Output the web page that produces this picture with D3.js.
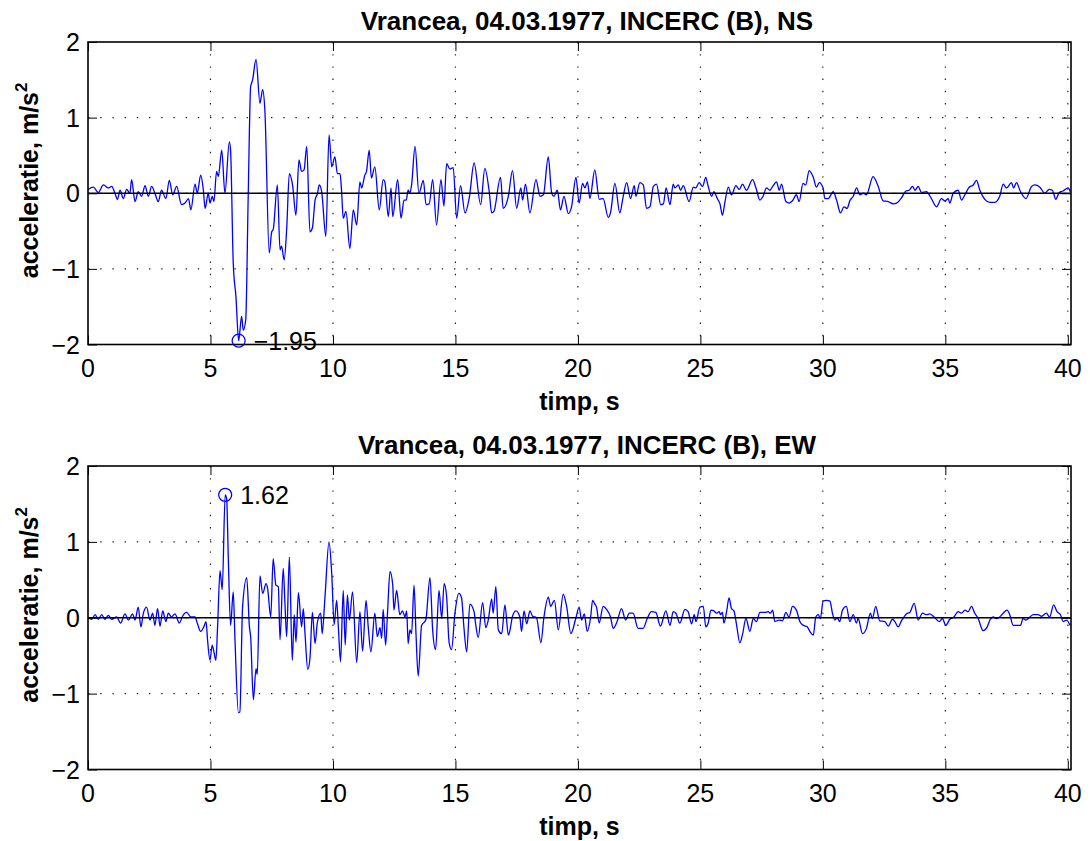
<!DOCTYPE html>
<html lang="ro">
<head>
<meta charset="UTF-8">
<title>Vrancea 1977 - INCERC</title>
<script src="https://d3js.org/d3.v7.min.js"></script>
<style>
    body { margin: 0; background: #fff; }
    svg { display: block; font-family: "Liberation Sans", Arial, Helvetica, sans-serif; }
</style>
</head>
<body>
<svg id="chart" width="1090" height="841"></svg>
<script>
// valori: [timp s, acceleratie m/s2]
const xTicks = [0, 5, 10, 15, 20, 25, 30, 35, 40];
const yTicks = [-2, -1, 0, 1, 2];
const tMax = 40.13;

const nsRecord = [[0,0.05],[0.22,0.08],[0.42,0.01],[0.63,0.11],[0.83,0.07],[0.97,0.09],[1.1,0],[1.2,-0.08],[1.31,0.04],[1.44,-0.07],[1.58,0.05],[1.71,0],[1.78,0.18],[1.92,-0.11],[2.05,0.02],[2.19,-0.04],[2.33,0.10],[2.46,-0.04],[2.6,0.09],[2.73,0],[2.87,-0.11],[3.0,0.04],[3.18,-0.07],[3.32,0.17],[3.46,-0.02],[3.62,0.09],[3.82,-0.15],[3.96,-0.13],[4.1,-0.07],[4.2,-0.22],[4.37,0.12],[4.46,0],[4.6,0.24],[4.71,0.04],[4.78,-0.2],[4.91,0],[4.98,-0.13],[5.07,-0.04],[5.14,-0.11],[5.25,0.29],[5.32,0.22],[5.46,0.57],[5.59,0],[5.77,0.68],[5.82,0.57],[5.93,-0.93],[6.04,-1.37],[6.15,-1.95],[6.27,-1.63],[6.34,-1.81],[6.44,-1.67],[6.54,-0.04],[6.64,1.41],[6.72,1.50],[6.86,1.77],[7.02,1.19],[7.13,1.37],[7.22,1.10],[7.4,-0.79],[7.5,-0.51],[7.56,-0.48],[7.73,0.11],[7.84,-0.75],[7.9,-0.7],[8.01,-0.88],[8.11,-0.48],[8.22,0.26],[8.35,0.11],[8.49,-0.29],[8.61,0.44],[8.72,0.29],[8.82,0.31],[8.93,0.62],[9.06,-0.51],[9.16,-0.46],[9.27,-0.09],[9.37,0],[9.44,0.11],[9.54,0.02],[9.71,-0.57],[9.84,0.77],[9.95,0.35],[10.08,0.48],[10.18,0.26],[10.29,0.26],[10.35,0.04],
[10.42,-0.33],[10.53,-0.24],[10.69,-0.73],[10.83,-0.22],[10.97,-0.42],[11.1,0.15],[11.17,0.07],[11.3,0.24],[11.37,0.29],[11.48,0.57],[11.57,0.20],[11.71,0.35],[11.89,-0.22],[12.05,0.18],[12.12,0.15],[12.26,-0.31],[12.37,0.07],[12.44,-0.31],[12.64,0.18],[12.78,-0.33],[12.9,-0.09],[12.99,-0.09],[13.07,0.04],[13.14,0],[13.21,0.11],[13.35,0.62],[13.51,0],[13.69,0.17],[13.8,-0.15],[13.93,-0.14],[14.07,0.18],[14.23,-0.42],[14.41,0.18],[14.53,-0.17],[14.64,0.39],[14.78,0.32],[14.91,0.34],[15.05,-0.33],[15.21,0.10],[15.39,-0.26],[15.57,-0.05],[15.76,0.40],[16.03,-0.15],[16.2,0.33],[16.38,0.02],[16.48,-0.26],[16.57,-0.24],[16.84,0.21],[16.95,-0.20],[17.16,-0.04],[17.33,0.30],[17.5,-0.20],[17.67,0.07],[17.74,-0.09],[17.86,0.12],[18.04,-0.26],[18.29,0.18],[18.45,-0.04],[18.59,-0.02],[18.79,0.48],[18.93,0],[19.02,-0.04],[19.16,0.04],[19.29,-0.22],[19.43,-0.04],[19.61,-0.27],[19.74,-0.18],[19.92,0.21],[20.05,-0.13],[20.19,0.13],[20.29,0.07],[20.39,0.15],[20.49,-0.07],[20.69,0.31],[20.87,-0.08],[21.03,-0.07],[21.24,-0.32],[21.33,-0.26],[21.51,0.13],[21.71,-0.26],[21.85,-0.04],[21.99,0.14],[22.15,-0.07],[22.3,0.10],[22.37,-0.04],[22.53,0.14],[22.67,0.11],[22.8,-0.20],[22.94,-0.18],[23.08,0.09],[23.21,0.12],[23.38,-0.15],[23.49,-0.14],[23.6,0.07],[23.76,-0.15],[23.89,0.12],[23.96,0.07],[24.1,0.11],[24.19,0.04],[24.3,0.10],[24.54,-0.11],[24.71,0.08],[24.81,0.07],[24.95,0.14],
[25.09,0.09],[25.22,0.21],[25.32,0.09],[25.46,-0.04],[25.55,0.02],[25.69,-0.07],[25.8,-0.14],[25.9,-0.29],[26.0,-0.12],[26.14,0.08],[26.27,-0.02],[26.45,0.10],[26.59,0.05],[26.72,0.12],[26.88,0.04],[27.13,0.18],[27.27,0.07],[27.43,-0.09],[27.56,-0.04],[27.7,0.07],[27.84,0.04],[27.95,0.09],[28.11,0.15],[28.22,0.04],[28.31,0.12],[28.49,-0.11],[28.63,-0.13],[28.76,-0.10],[28.92,-0.02],[29.03,-0.11],[29.19,0.13],[29.3,0.11],[29.44,0.30],[29.61,0.21],[29.74,0.08],[29.85,0.14],[30.01,0.07],[30.08,-0.07],[30.22,-0.07],[30.42,0.02],[30.56,-0.09],[30.72,-0.26],[30.86,-0.18],[30.99,-0.2],[31.1,-0.10],[31.24,-0.04],[31.38,0.07],[31.51,-0.02],[31.65,0],[31.78,-0.02],[32.05,0.22],[32.26,0.09],[32.46,-0.10],[32.67,-0.11],[32.87,-0.14],[33.01,-0.13],[33.21,-0.06],[33.39,0.03],[33.52,0.04],[33.66,0.09],[33.76,0.04],[33.89,0.09],[34.03,0.01],[34.23,0.02],[34.43,-0.07],[34.64,-0.18],[34.84,-0.07],[34.98,-0.10],[35.12,-0.07],[35.18,-0.13],[35.32,0],[35.52,0.04],[35.66,-0.09],[35.8,-0.02],[35.97,0.08],[36.14,0.11],[36.27,0.17],[36.41,0.04],[36.61,-0.08],[36.82,-0.12],[37.02,-0.12],[37.22,-0.04],[37.36,0.12],[37.5,0.07],[37.7,0.14],[37.79,0.07],[37.9,0.14],[38.07,0.02],[38.29,-0.07],[38.52,0.09],[38.65,0.11],[38.86,0.08],[39.06,0],[39.24,0.05],[39.37,0.04],[39.51,-0.08],[39.65,0.01],[39.81,0.03],[40.01,0.07],[40.1,0.02]];

const ewRecord = [[0,0],[0.15,-0.02],[0.29,0.04],[0.42,-0.02],[0.56,0.04],[0.69,-0.02],[0.83,0.03],[0.97,-0.02],[1.17,0.01],[1.33,-0.07],[1.51,0.05],[1.65,-0.03],[1.82,0.05],[1.92,-0.03],[2.05,0.14],[2.16,-0.12],[2.26,0.06],[2.39,0.14],[2.53,-0.03],[2.64,0.06],[2.73,-0.10],[2.84,0.12],[2.94,-0.11],[3.05,0.09],[3.18,-0.05],[3.28,0.06],[3.41,0.01],[3.55,0.05],[3.73,-0.07],[3.86,0.02],[4.03,0.07],[4.2,0.01],[4.37,0.01],[4.46,-0.07],[4.6,-0.18],[4.73,-0.12],[4.82,-0.05],[4.88,-0.29],[4.98,-0.56],[5.07,-0.36],[5.14,-0.45],[5.22,-0.56],[5.29,-0.12],[5.39,0.62],[5.48,0.37],[5.6,1.62],[5.66,1.57],[5.73,0.76],[5.82,-0.10],[5.93,0.34],[6.0,-0.29],[6.14,-1.25],[6.2,-1.24],[6.31,0.14],[6.48,0.53],[6.59,-0.12],[6.64,-0.25],[6.75,-1.08],[6.86,-0.67],[6.91,-0.75],[7.02,0.55],[7.13,0.32],[7.27,0.45],[7.33,0.39],[7.46,0.01],[7.56,0.78],[7.67,0.43],[7.77,0.41],[7.84,-0.29],[7.97,0.65],[8.04,0.19],[8.11,-0.25],[8.22,0.80],[8.34,-0.56],[8.42,0.04],[8.49,-0.32],[8.59,0.33],[8.72,-0.12],[8.79,0.12],[8.86,-0.21],[8.97,-0.68],[9.06,-0.54],[9.16,0.07],[9.27,-0.34],[9.36,-0.07],[9.5,0.06],[9.56,-0.21],[9.67,0.25],[9.84,1.0],[9.95,0.58],[10.05,-0.09],[10.15,0.23],[10.22,-0.12],[10.31,-0.58],
[10.42,0.36],[10.5,-0.36],[10.59,0.30],[10.67,-0.03],[10.8,0.34],[10.97,-0.59],[11.1,0.08],[11.21,-0.44],[11.35,0.23],[11.44,-0.12],[11.55,-0.45],[11.71,0.06],[11.81,-0.25],[11.92,-0.13],[11.99,-0.27],[12.05,0.11],[12.15,-0.36],[12.23,0.08],[12.33,0.61],[12.44,0.43],[12.49,0.10],[12.6,0.36],[12.73,0.04],[12.84,0.09],[12.94,0.01],[13.01,0.09],[13.07,-0.34],[13.14,-0.16],[13.21,-0.21],[13.31,0.43],[13.39,-0.21],[13.48,-0.77],[13.62,-0.10],[13.79,-0.03],[13.96,0.53],[14.07,-0.16],[14.19,-0.42],[14.33,0.36],[14.44,-0.01],[14.54,0.45],[14.64,0.28],[14.74,-0.32],[14.84,-0.42],[14.98,0.06],[15.14,0.32],[15.25,0.26],[15.35,-0.14],[15.46,-0.45],[15.59,0.18],[15.76,0.08],[15.82,-0.07],[15.93,-0.26],[16.11,0.20],[16.24,-0.13],[16.34,-0.03],[16.48,0.25],[16.54,0.06],[16.65,0.41],[16.75,-0.16],[16.89,-0.21],[17.02,0.17],[17.16,-0.23],[17.23,-0.16],[17.33,0.02],[17.47,0.09],[17.63,0.01],[17.7,-0.18],[17.8,0.09],[17.91,-0.08],[18.04,0.09],[18.15,0.02],[18.31,0],[18.49,-0.33],[18.61,0],[18.79,0.27],[18.89,0.15],[19.04,0.23],[19.2,-0.16],[19.4,0.31],[19.54,0.15],[19.71,-0.21],[19.92,0],[20.05,0.14],[20.15,-0.03],[20.26,0.05],[20.38,-0.18],[20.52,0.01],[20.6,0.23],[20.69,0.18],[20.76,0.14],[20.87,-0.07],[21.03,0.15],[21.17,0.11],[21.33,0.01],[21.44,-0.14],[21.6,-0.05],[21.78,0.12],[21.95,-0.03],[22.1,0.06],[22.25,0.06],[22.46,-0.14],[22.66,-0.14],[22.83,-0.01],[23.0,0.08],[23.18,0.07],[23.37,-0.11],[23.59,0.09],[23.76,-0.10],[23.89,0.08],[24.0,0.06],[24.16,-0.07],[24.37,0.11],[24.5,0.08],[24.64,-0.08],[24.75,0.04],[24.82,-0.05],[24.98,0.14],
[25.12,0.15],[25.22,-0.12],[25.32,-0.07],[25.43,0.10],[25.55,0.09],[25.66,0.06],[25.77,0.08],[25.82,0.04],[25.9,0.07],[25.96,-0.07],[26.07,0.08],[26.17,0.26],[26.27,0.12],[26.37,0.09],[26.48,-0.10],[26.61,-0.33],[26.72,-0.22],[26.86,-0.01],[27.02,-0.18],[27.16,-0.01],[27.29,-0.05],[27.43,0.07],[27.63,0.07],[27.77,0.08],[27.86,0.06],[27.95,0.10],[28.04,-0.05],[28.22,-0.03],[28.35,-0.04],[28.49,0.07],[28.62,0.01],[28.76,0.15],[28.92,0.10],[29.06,-0.05],[29.2,-0.10],[29.36,-0.12],[29.47,-0.18],[29.61,-0.23],[29.71,0.01],[29.81,0.04],[29.9,-0.01],[30.01,0.22],[30.15,0.23],[30.29,0.22],[30.39,0.06],[30.49,-0.03],[30.58,0],[30.69,-0.05],[30.8,0.10],[30.96,0.15],[31.1,-0.05],[31.24,0.04],[31.37,-0.07],[31.44,-0.01],[31.62,-0.21],[31.78,-0.14],[31.94,0.06],[32.02,-0.01],[32.16,0.15],[32.32,-0.04],[32.53,-0.05],[32.67,-0.11],[32.84,-0.02],[32.94,-0.05],[33.07,-0.12],[33.21,-0.04],[33.41,0.05],[33.55,0.07],[33.73,0.19],[33.89,-0.03],[34.07,0.06],[34.23,0.04],[34.36,0.05],[34.57,0],[34.75,-0.05],[34.88,-0.01],[35.02,-0.10],[35.18,-0.02],[35.35,0.01],[35.52,0.08],[35.66,0.06],[35.8,0.10],[35.93,0.08],[36.07,0.15],[36.2,0.06],[36.34,-0.01],[36.54,-0.17],[36.71,-0.12],[36.82,-0.03],[36.95,0.01],[37.09,-0.01],[37.22,0.01],[37.36,0.06],[37.52,0.10],[37.63,0.04],[37.77,-0.10],[37.93,-0.10],[38.07,-0.10],[38.17,-0.01],[38.29,-0.03],[38.45,0.01],[38.59,0.04],[38.79,0.04],[38.93,0.02],[39.12,0.06],[39.26,0.01],[39.42,0.17],[39.56,0.08],[39.7,0.04],[39.81,-0.05],[39.95,-0.03],[40.09,-0.10]];

const nsPeak = [6.15, -1.95];
const ewPeak = [5.60, 1.62];

const panels = [
    { title: "Vrancea, 04.03.1977, INCERC (B), NS", data: nsRecord, peak: nsPeak, label: "\u22121.95", top: 42, bottom: 344.5 },
    { title: "Vrancea, 04.03.1977, INCERC (B), EW", data: ewRecord, peak: ewPeak, label: "1.62", top: 466, bottom: 769.5 }
];

const svg = d3.select("#chart");
const left = 88, right = 1071;
const x = d3.scaleLinear().domain([0, tMax]).range([left, right]);
const fmt = v => v < 0 ? "\u2212" + Math.abs(v) : String(v);

panels.forEach((p, i) => {
    const y = d3.scaleLinear().domain([-2, 2]).range([p.bottom, p.top]);
    const g = svg.append("g");

    // grila punctata
    g.selectAll(".gx").data(xTicks.filter(d => d > 0)).enter().append("line")
        .attr("x1", d => x(d)).attr("x2", d => x(d))
        .attr("y1", p.top).attr("y2", p.bottom)
        .attr("stroke", "#222").attr("stroke-width", 1.2)
        .attr("stroke-dasharray", "1.4,10.8");
    g.selectAll(".gy").data(yTicks.filter(d => d > -2 && d < 2)).enter().append("line")
        .attr("x1", left).attr("x2", right)
        .attr("y1", d => y(d)).attr("y2", d => y(d))
        .attr("stroke", "#222").attr("stroke-width", 1.2)
        .attr("stroke-dasharray", "1.4,10.8");

    // semnal
    g.append("clipPath").attr("id", "clip" + i).append("rect")
        .attr("x", left).attr("y", p.top).attr("width", right - left).attr("height", p.bottom - p.top);
    const line = d3.line().curve(d3.curveMonotoneX).x(d => x(d[0])).y(d => y(d[1]));
    g.append("path").datum(p.data)
        .attr("clip-path", "url(#clip" + i + ")")
        .attr("d", line)
        .attr("fill", "none").attr("stroke", "#0000ff").attr("stroke-width", 1.3)
        .attr("stroke-linejoin", "round");

    // linia de zero
    g.append("line").attr("x1", left).attr("x2", right)
        .attr("y1", y(0)).attr("y2", y(0))
        .attr("stroke", "#000").attr("stroke-width", 1.5);

    // axe
    const axB = d3.axisBottom(x).tickValues(xTicks).tickSize(-9).tickFormat("");
    const axT = d3.axisTop(x).tickValues(xTicks).tickSize(-9).tickFormat("");
    const axL = d3.axisLeft(y).tickValues(yTicks).tickSize(-9).tickFormat("");
    const axR = d3.axisRight(y).tickValues(yTicks).tickSize(-9).tickFormat("");
    [[axB, `translate(0,${p.bottom})`], [axT, `translate(0,${p.top})`],
     [axL, `translate(${left},0)`], [axR, `translate(${right},0)`]].forEach(([ax, tr]) => {
        const a = g.append("g").attr("transform", tr).call(ax);
        a.select(".domain").remove();
        a.selectAll("line").attr("stroke", "#000").attr("stroke-width", 1);
    });
    g.append("rect").attr("x", left).attr("y", p.top)
        .attr("width", right - left).attr("height", p.bottom - p.top)
        .attr("fill", "none").attr("stroke", "#000").attr("stroke-width", 1.6);

    // etichete
    g.selectAll(".tx").data(xTicks).enter().append("text")
        .attr("x", d => x(d)).attr("y", p.bottom + 32.5)
        .attr("text-anchor", "middle").attr("font-size", 25).text(d => d);
    g.selectAll(".ty").data(yTicks).enter().append("text")
        .attr("x", 80).attr("y", d => y(d) + 9)
        .attr("text-anchor", "end").attr("font-size", 25).text(fmt);

    g.append("text").attr("x", 587).attr("y", p.top - 12)
        .attr("text-anchor", "middle").attr("font-size", 26).attr("font-weight", "bold")
        .text(p.title);
    g.append("text").attr("x", (left + right) / 2).attr("y", p.bottom + 65.5)
        .attr("text-anchor", "middle").attr("font-size", 25).attr("font-weight", "bold")
        .text("timp, s");
    const yl = g.append("text")
        .attr("transform", `translate(38,${y(0) + 85}) rotate(-90)`)
        .attr("font-size", 25).attr("font-weight", "bold");
    yl.append("tspan").text("acceleratie, m/s");
    yl.append("tspan").attr("font-size", 17).attr("dy", -11).text("2");

    // valoarea de varf
    g.append("circle").attr("cx", x(p.peak[0])).attr("cy", y(p.peak[1])).attr("r", 6.5)
        .attr("fill", "none").attr("stroke", "#0000ff").attr("stroke-width", 1.3);
    g.append("text").attr("x", x(p.peak[0]) + 15).attr("y", y(p.peak[1]) + 9.5)
        .attr("font-size", 25).text(p.label);
});
</script>
</body>
</html>
